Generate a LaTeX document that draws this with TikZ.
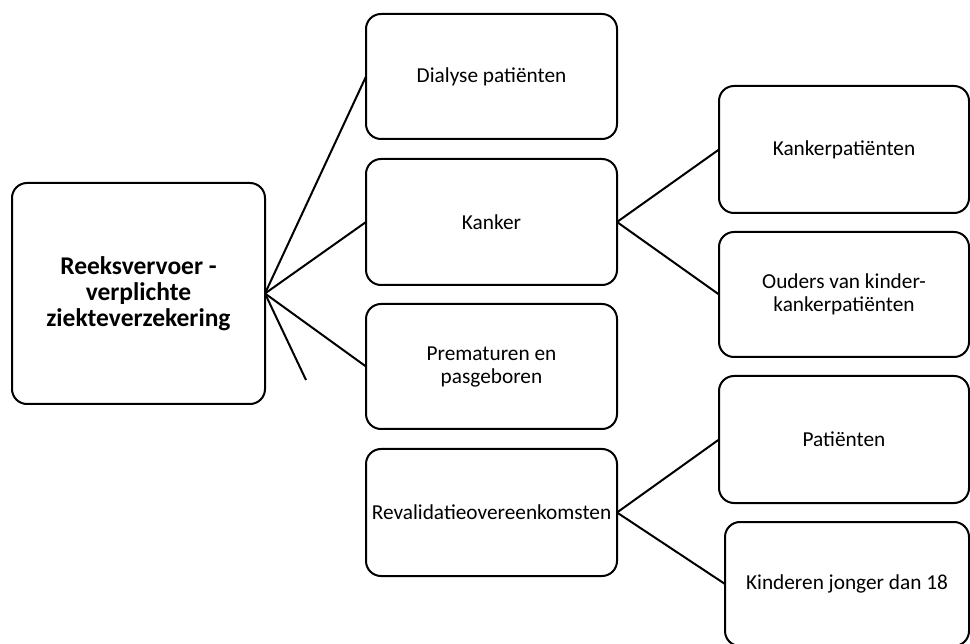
\documentclass[tikz,border=0pt]{standalone}
\usepackage{fontspec}
\setmainfont{Carlito}
\begin{document}
\begin{tikzpicture}[x=1pt,y=-1pt,
  box/.style={draw, line width=2pt, rounded corners=15pt, inner sep=0pt, outer sep=0pt,
    align=center, font=\fontsize{21.3}{23}\selectfont},
  conn/.style={line width=2pt}]
\useasboundingbox (0,0) rectangle (970,644);
\node[box, minimum width=253pt, minimum height=221pt, font=\fontsize{25.5}{26}\selectfont\bfseries] (root) at (138.5,293.5) {Reeksvervoer -\\verplichte\\ziekteverzekering};
\node[box, minimum width=251pt, minimum height=125pt] (dia) at (491.5,76.5) {Dialyse patiënten};
\node[box, minimum width=251pt, minimum height=126pt] (kan) at (491.5,222) {Kanker};
\node[box, minimum width=251pt, minimum height=125pt] (pre) at (491.5,366.5) {Prematuren en\\pasgeboren};
\node[box, minimum width=251pt, minimum height=127pt] (rev) at (491.5,512.5) {Revalidatieovereenkomsten};
\node[box, minimum width=250pt, minimum height=127pt] (kp) at (844,149.5) {Kankerpatiënten};
\node[box, minimum width=250pt, minimum height=125pt] (ou) at (844,294.5) {Ouders van kinder-\\kankerpatiënten};
\node[box, minimum width=250pt, minimum height=127pt] (pa) at (844,439.5) {Patiënten};
\node[box, minimum width=244pt, minimum height=124pt] (ki) at (847,584) {Kinderen jonger dan 18};
\coordinate (free) at (306,380);
\draw[conn] (root.east) -- (dia.west);
\draw[conn] (root.east) -- (kan.west);
\draw[conn] (root.east) -- (pre.west);
\draw[conn] (root.east) -- (free);
\draw[conn] (kan.east) -- (kp.west);
\draw[conn] (kan.east) -- (ou.west);
\draw[conn] (rev.east) -- (pa.west);
\draw[conn] (rev.east) -- (ki.west);
\end{tikzpicture}
\end{document}
